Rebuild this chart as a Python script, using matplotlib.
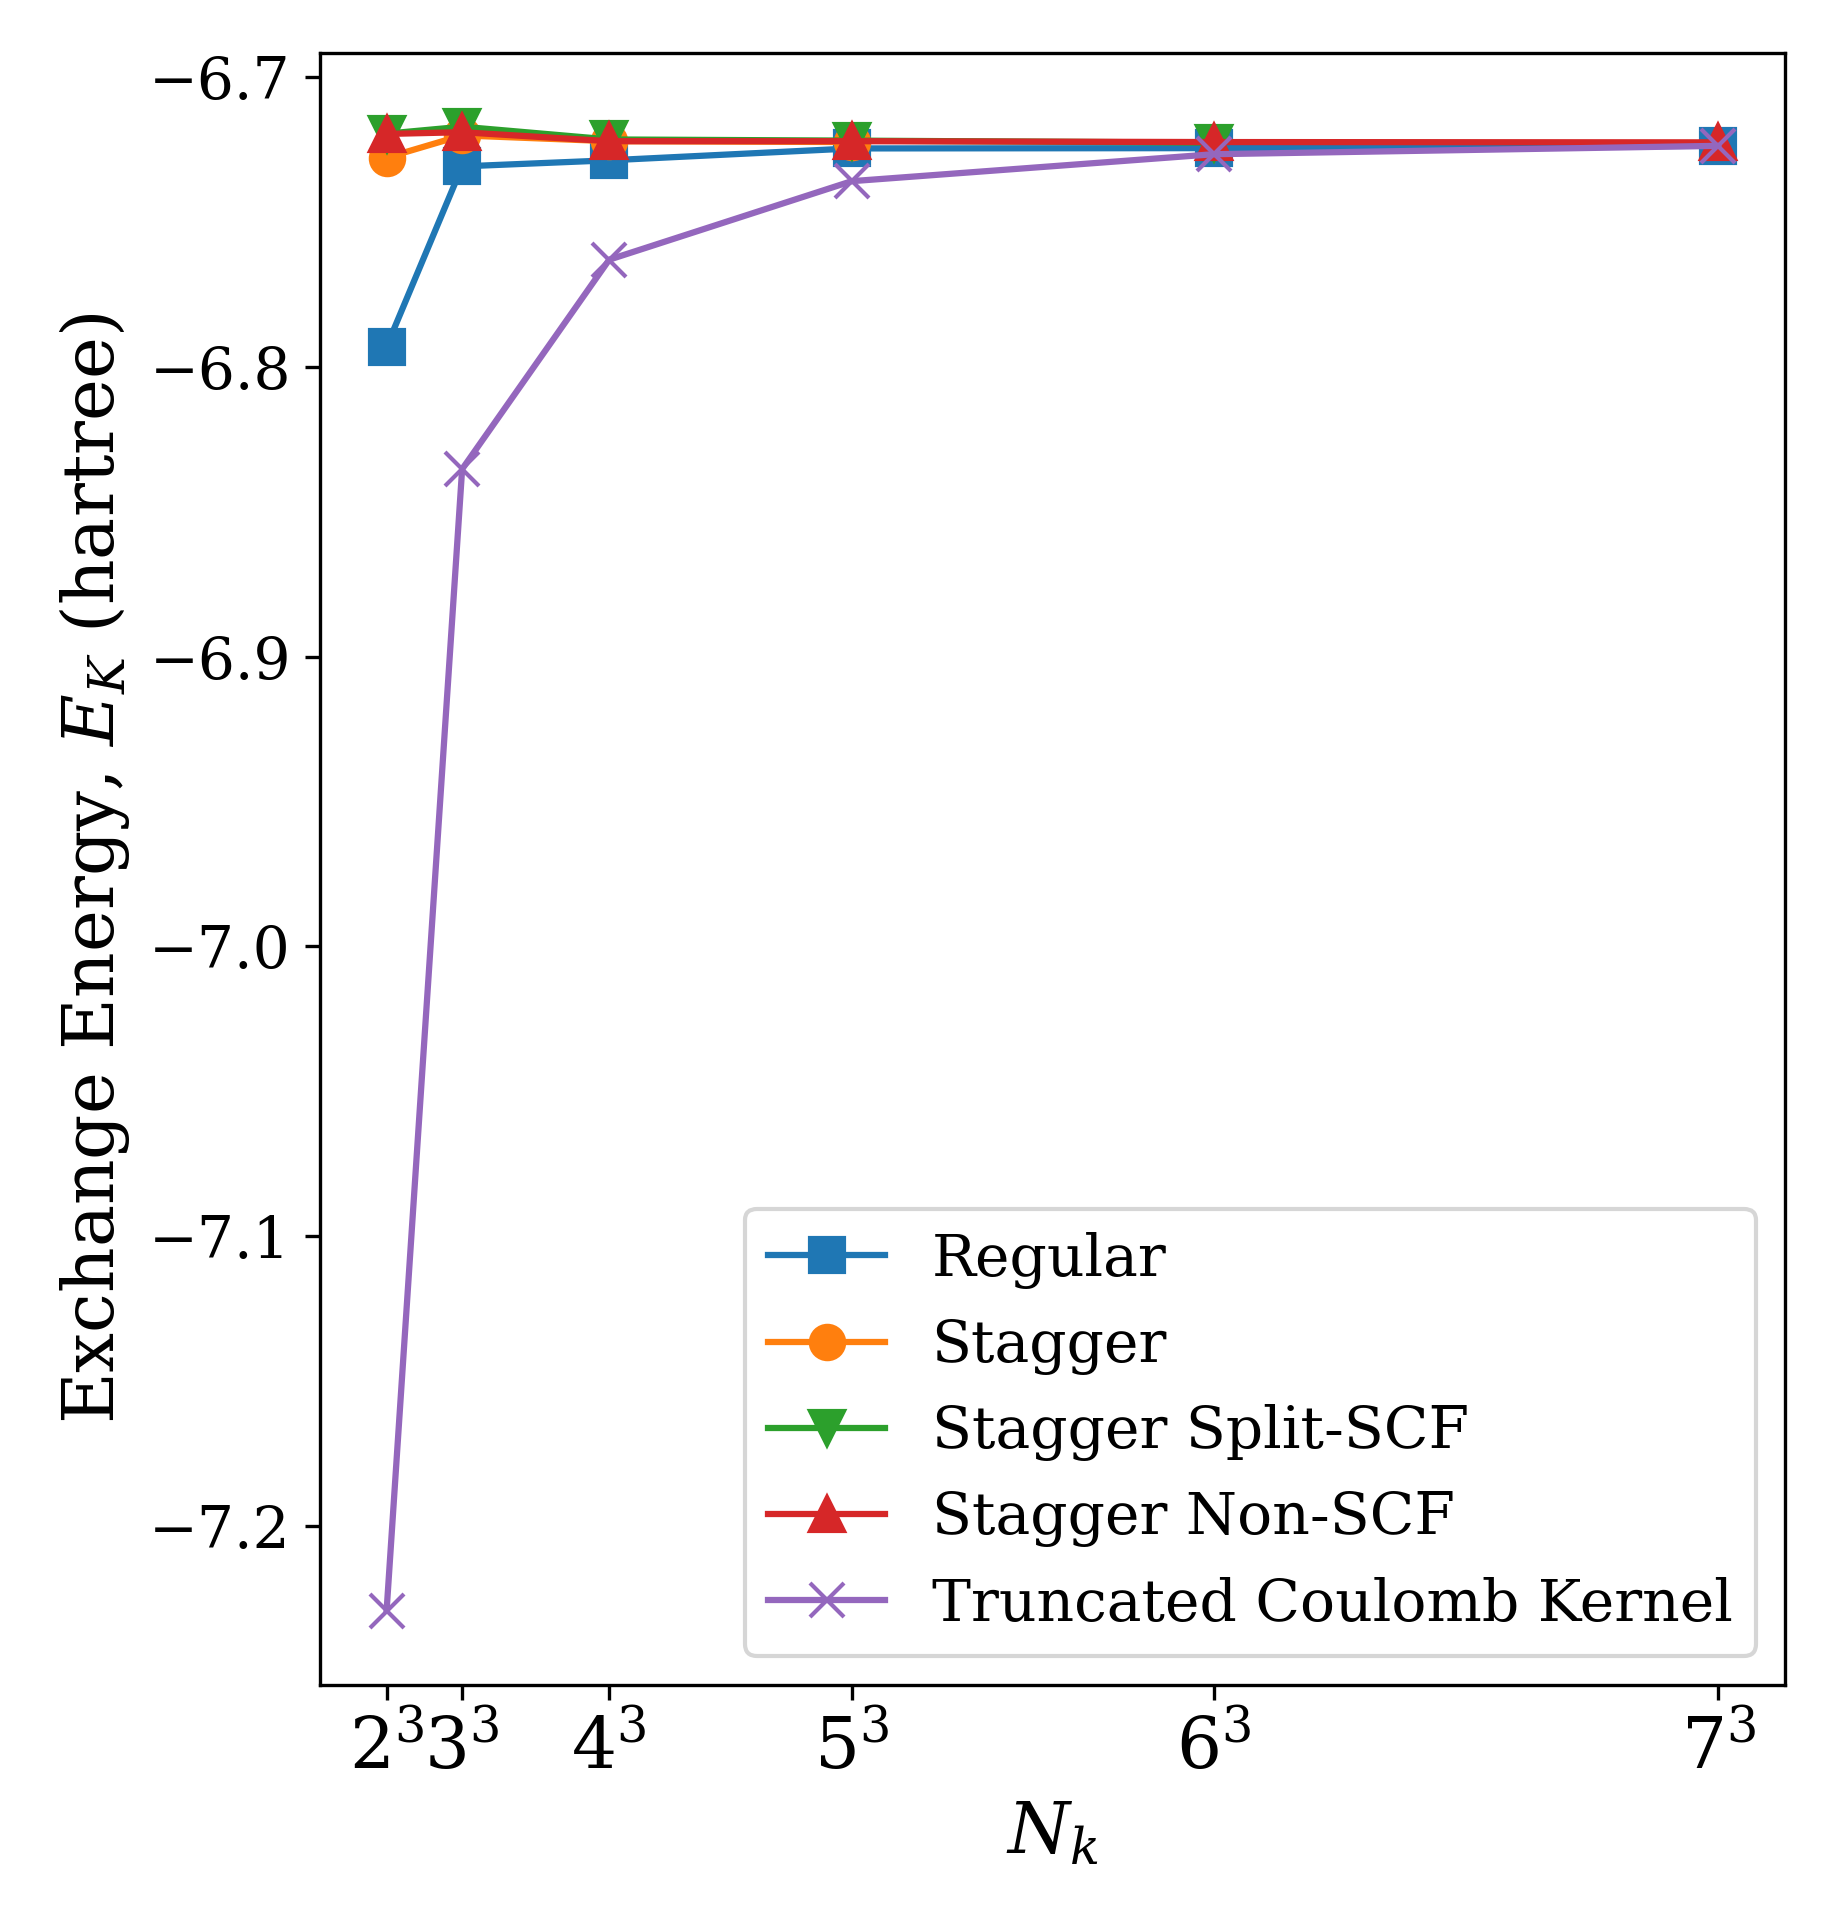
import matplotlib
matplotlib.use("Agg")
import matplotlib.pyplot as plt

plt.rcParams['font.family'] = 'serif'
plt.rcParams['font.serif'] = ['DejaVu Serif']
plt.rcParams['mathtext.fontset'] = 'dejavuserif'

# k-point grid sizes
n_side = [2, 3, 4, 5, 6, 7]
nk = [n ** 3 for n in n_side]

regular = [-6.7930, -6.7308, -6.7287, -6.7246, -6.7245, -6.7237]
stagger = [-6.7278, -6.7201, -6.7221, -6.7224]          # 2^3 .. 5^3
split_scf = [-6.7195, -6.7171, -6.7215, -6.7219, -6.7226]  # 2^3 .. 6^3
non_scf = [-6.7196, -6.7190, -6.7221, -6.7221, -6.7224, -6.7225]
truncated = [-7.2294, -6.8353, -6.7630, -6.7359, -6.7266, -6.7237]

xtick_labels = [r'$%d^3$' % n for n in n_side]

W, H = 1837, 1925
fig = plt.figure(figsize=(W / 300, H / 300), dpi=300)
ax = fig.add_axes([320 / W, 1 - 1685 / H, (1785 - 320) / W, (1685 - 52.5) / H])

ax.plot(nk, regular, marker='s', markersize=8, label='Regular')
ax.plot(nk[:len(stagger)], stagger, marker='o', markersize=8, label='Stagger')
ax.plot(nk[:len(split_scf)], split_scf, marker='v', markersize=8, label='Stagger Split-SCF')
ax.plot(nk, non_scf, marker='^', markersize=8, label='Stagger Non-SCF')
ax.plot(nk, truncated, marker='x', markersize=8, label='Truncated Coulomb Kernel')

ax.set_xticks(nk)
ax.set_xticklabels(xtick_labels, fontsize=17)
ax.tick_params(axis='y', labelsize=14)
ax.set_xlabel(r'$N_k$', fontsize=17)
ax.set_ylabel(r'Exchange Energy, $E_K$ (hartree)', fontsize=17)
ax.legend(loc='lower right', fontsize=14)

fig.savefig('out.png', dpi=300)
